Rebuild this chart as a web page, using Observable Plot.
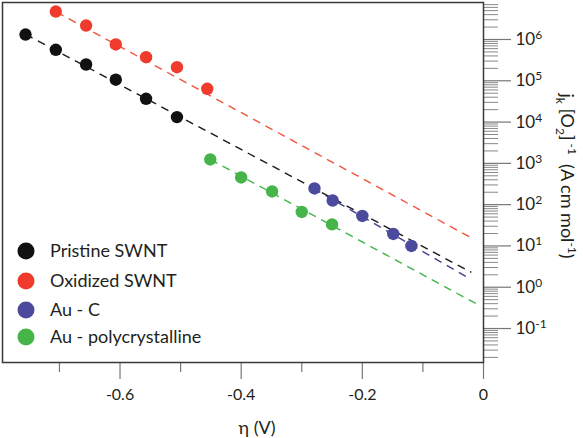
<!DOCTYPE html>
<html><head><meta charset="utf-8">
<script src="https://cdn.jsdelivr.net/npm/d3@7"></script>
<script src="https://cdn.jsdelivr.net/npm/@observablehq/plot@0.6"></script>
<style>body{margin:0;background:#fff}#chart{width:583px;height:438px}</style>
</head><body><div id="chart"></div>
<script>
const seriesNames = ["Pristine SWNT", "Oxidized SWNT", "Au - C", "Au - polycrystalline"];
const dotColors = ["#111111", "#ef3a2d", "#4b4a9c", "#45b549"];
const lineColors = ["#1a1a1a", "#f0553a", "#463f8c", "#3fb54a"];

const pristineX = [-0.756, -0.706, -0.656, -0.607, -0.557, -0.506];
const pristineY = [1.32e6, 5.64e5, 2.48e5, 1.06e5, 3.66e4, 1.32e4];
const oxidizedX = [-0.706, -0.656, -0.607, -0.557, -0.506, -0.456];
const oxidizedY = [4.76e6, 2.18e6, 7.57e5, 3.72e5, 2.13e5, 6.4e4];
const auCX = [-0.279, -0.249, -0.200, -0.149, -0.119];
const auCY = [247, 126, 53.2, 19.5, 10.0];
const auPolyX = [-0.451, -0.400, -0.349, -0.300, -0.250];
const auPolyY = [1242, 456, 209, 66.5, 33.2];

// dashed fit lines: start and end, per series
const fitX1 = [-0.756, -0.705, -0.281, -0.451];
const fitY1 = [1.34e6, 4.63e6, 247, 1242];
const fitX2 = [-0.020, -0.0215, -0.026, -0.007];
const fitY2 = [2.28, 16.1, 1.73, 0.363];

const xMajorTicks = [-0.6, -0.4, -0.2, 0];
const xMinorTicks = [-0.7, -0.5, -0.3, -0.1];
const yMajorExps = [-1, 0, 1, 2, 3, 4, 5, 6];
const xLabel = "η (V)";

const seriesX = [pristineX, oxidizedX, auCX, auPolyX];
const seriesY = [pristineY, oxidizedY, auCY, auPolyY];
const points = seriesNames.flatMap((s, i) => seriesX[i].map((x, j) => ({series: s, x, y: seriesY[i][j], color: dotColors[i]})));
const fits = seriesNames.map((s, i) => ({series: s, x1: fitX1[i], y1: fitY1[i], x2: fitX2[i], y2: fitY2[i], color: lineColors[i]}));
const yMajor = yMajorExps.map(e => Math.pow(10, e));
const yMinor = [];
for (let e = -2; e <= 6; e++) for (let m = 2; m <= 9; m++) {
  const v = m * Math.pow(10, e);
  if (v > 0.01503 && v < 7.87e6) yMinor.push(v);
}

const chart = Plot.plot({
  width: 583, height: 438,
  marginLeft: 2, marginTop: 2, marginRight: 100, marginBottom: 76,
  style: {fontFamily: "Lato, sans-serif", color: "#231f20", background: "#fff"},
  x: {domain: [-0.794, 0]},
  y: {type: "log", domain: [0.01503, 7.87e6]},
  color: {type: "identity"},
  marks: [
    Plot.axisX(xMinorTicks, {tickSize: 10, tickFormat: () => "", label: null, stroke: "#777", strokeWidth: 1.2}),
    Plot.axisX(xMajorTicks, {tickSize: 17, tickPadding: 9, fontSize: 16, label: null, stroke: "#777", strokeWidth: 1.2, fill: "#231f20",
      tickFormat: d => d === 0 ? "0" : d3.format(".1f")(d).replace("−", "-")}),
    Plot.axisY(yMinor, {anchor: "right", tickSize: 14, tickFormat: () => "", label: null, stroke: "#888", strokeWidth: 1}),
    Plot.axisY(yMajor, {anchor: "right", tickSize: 27, tickPadding: 5, fontSize: 17, label: null, stroke: "#777", strokeWidth: 1.2, fill: "#231f20",
      tickFormat: d => "10^" + Math.round(Math.log10(d))}),
    Plot.link(fits, {x1: "x1", y1: "y1", x2: "x2", y2: "y2", stroke: "color", strokeDasharray: "8,6", strokeWidth: 1.4}),
    Plot.dot(points, {x: "x", y: "y", fill: "color", r: 6.2}),
    Plot.frame({stroke: "#3a3a3a", strokeWidth: 1.5})
  ]
});

const svg = d3.select(chart);
// superscript exponents on y tick labels
svg.selectAll('g[aria-label="y-axis tick label"] text').each(function () {
  const t = this.textContent;
  if (!t || t.indexOf("^") < 0) return;
  const [b, e] = t.split("^");
  this.textContent = b;
  d3.select(this).append("tspan").attr("dy", "-0.5em").attr("font-size", 12).text(e.replace("−", "-"));
});

// legend
const lg = svg.append("g").attr("font-family", "Lato, sans-serif").attr("font-size", 18).attr("fill", "#231f20").attr("text-anchor", "start");
const legendY = [251, 281, 310, 337];
seriesNames.forEach((s, i) => {
  lg.append("circle").attr("cx", 26).attr("cy", legendY[i]).attr("r", 8.5).attr("fill", dotColors[i]);
  lg.append("text").attr("x", 50).attr("y", legendY[i]).attr("dy", "0.35em").attr("text-anchor", "start").text(s);
});

// x label
svg.append("text").attr("x", 257).attr("y", 434).attr("text-anchor", "middle")
  .attr("font-family", "Lato, sans-serif").attr("font-size", 18).attr("fill", "#231f20").text(xLabel);

// y label (rotated), with sub/superscripts
const yl = svg.append("text").attr("transform", "translate(561,176) rotate(90)").attr("text-anchor", "middle")
  .attr("font-family", "Lato, sans-serif").attr("font-size", 18).attr("fill", "#231f20").attr("style", "white-space:pre");
const parts = [["j", 0], ["k", 1], [" [O", 0], ["2", 1], ["]", 0], [" -1", -1], ["  (A cm mol", 0], ["-1", -1], [")", 0]];
let cur = 0;
parts.forEach(([txt, k]) => {
  const target = k === 1 ? 5 : k === -1 ? -7 : 0;
  const ts = yl.append("tspan").attr("dy", target - cur).text(txt);
  if (k !== 0) ts.attr("font-size", 12);
  cur = target;
});

document.getElementById("chart").appendChild(chart);
</script>
</body></html>
